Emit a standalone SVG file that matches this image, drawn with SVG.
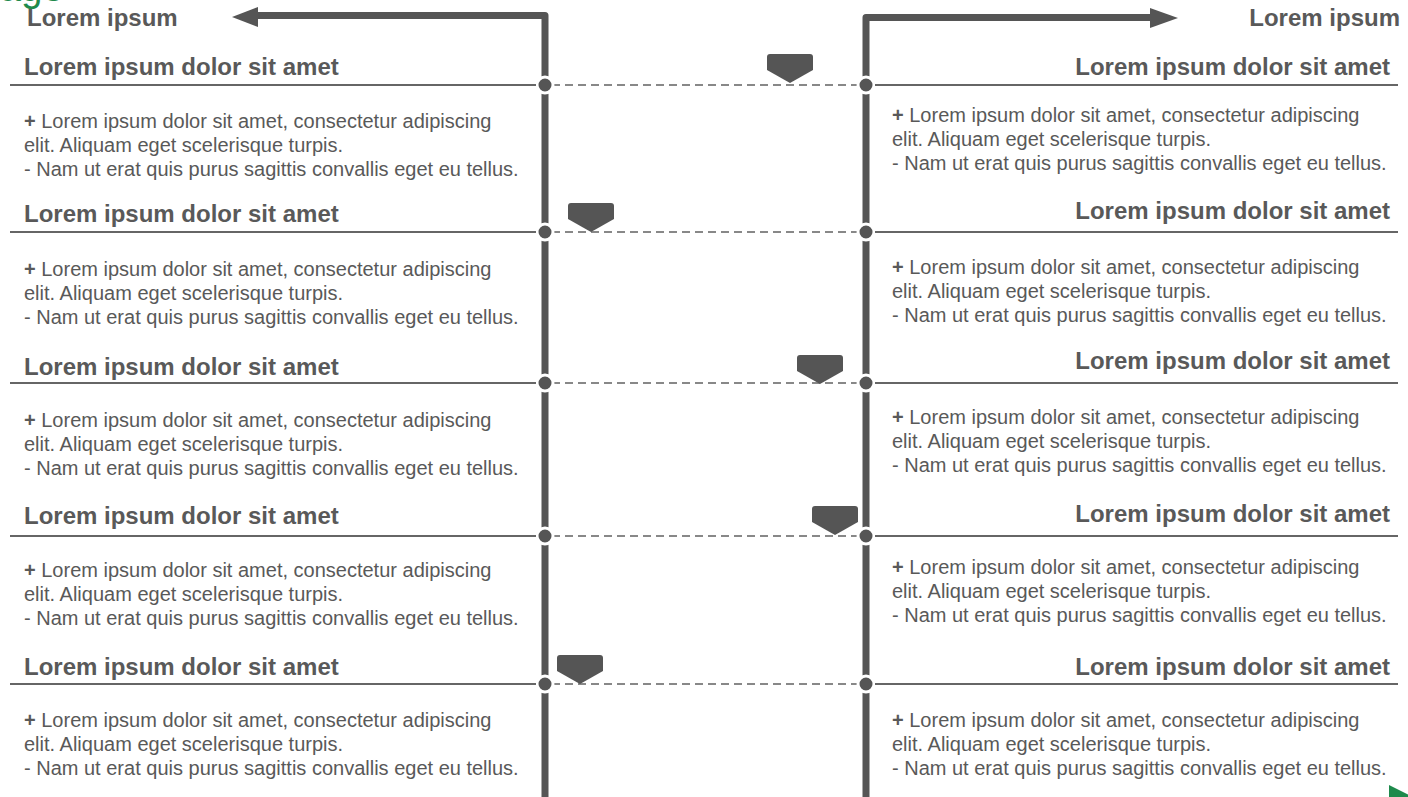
<svg xmlns="http://www.w3.org/2000/svg" width="1408" height="797" viewBox="0 0 1408 797">
  <style>
    .hd { font-family: "Liberation Sans", Arial, sans-serif; font-weight: bold; font-size: 24px; fill: #595959; }
    .bd { font-family: "Liberation Sans", Arial, sans-serif; font-size: 20px; fill: #595959; }
    .bd .pl { font-weight: bold; }
    .rule { stroke: #666; stroke-width: 2; }
    .spine { fill: none; stroke: #555; stroke-width: 7; stroke-linejoin: round; }
    .dash { stroke: #888; stroke-width: 2; stroke-dasharray: 8 5; }
    .dot { fill: #555; stroke: #fff; stroke-width: 3; }
    .flag { fill: #555; }
  </style>
  <defs>
    <path id="flag" d="M3,0 H43 Q46,0 46,3 V16 L23,29 L0,16 V3 Q0,0 3,0 Z"/>
  </defs>
  <rect width="1408" height="797" fill="#fff"/>

  <!-- title fragment and corner mark -->
  <text x="0" y="1" font-family="Liberation Sans, Arial, sans-serif" font-size="38" fill="#1e8a4c">age</text>
  <polygon points="1389,785 1389,811 1415,798" fill="#1e8a4c"/>

  <!-- spines, arrows and dashed links -->
  <g id="connectors">
    <path class="spine" d="M545,797 V15.5 H256"/>
    <polygon points="232,17 258,7 258,27" fill="#555"/>
    <path class="spine" d="M866,797 V17.5 H1152"/>
    <polygon points="1178,18 1150,8 1150,28" fill="#555"/>

    <line class="dash" x1="552" y1="85" x2="859" y2="85"/>
    <line class="dash" x1="552" y1="232" x2="859" y2="232"/>
    <line class="dash" x1="552" y1="383" x2="859" y2="383"/>
    <line class="dash" x1="552" y1="536" x2="859" y2="536"/>
    <line class="dash" x1="552" y1="684" x2="859" y2="684"/>

    <circle class="dot" cx="545" cy="85" r="8"/>
    <circle class="dot" cx="866" cy="85" r="8"/>
    <circle class="dot" cx="545" cy="232" r="8"/>
    <circle class="dot" cx="866" cy="232" r="8"/>
    <circle class="dot" cx="545" cy="383" r="8"/>
    <circle class="dot" cx="866" cy="383" r="8"/>
    <circle class="dot" cx="545" cy="536" r="8"/>
    <circle class="dot" cx="866" cy="536" r="8"/>
    <circle class="dot" cx="545" cy="684" r="8"/>
    <circle class="dot" cx="866" cy="684" r="8"/>
  </g>

  <!-- position flags on the links -->
  <g id="flags" class="flag">
    <use href="#flag" x="767" y="54"/>
    <use href="#flag" x="568" y="203"/>
    <use href="#flag" x="797" y="355"/>
    <use href="#flag" x="812" y="506"/>
    <use href="#flag" x="557" y="655"/>
  </g>

  <!-- column titles -->
  <g id="title-left"><text class="hd" x="27" y="26">Lorem ipsum</text></g>
  <g id="title-right"><text class="hd" x="1400" y="26" text-anchor="end">Lorem ipsum</text></g>

  <!-- left column entries -->
  <g id="left-1">
    <text class="hd" x="24" y="75">Lorem ipsum dolor sit amet</text>
    <line class="rule" x1="10" y1="85" x2="536" y2="85"/>
    <text class="bd" x="24" y="128"><tspan class="pl">+</tspan> Lorem ipsum dolor sit amet, consectetur adipiscing<tspan x="24" dy="24">elit. Aliquam eget scelerisque turpis.</tspan><tspan x="24" dy="24">- Nam ut erat quis purus sagittis convallis eget eu tellus.</tspan></text>
  </g>
  <g id="left-2">
    <text class="hd" x="24" y="222">Lorem ipsum dolor sit amet</text>
    <line class="rule" x1="10" y1="232" x2="536" y2="232"/>
    <text class="bd" x="24" y="276"><tspan class="pl">+</tspan> Lorem ipsum dolor sit amet, consectetur adipiscing<tspan x="24" dy="24">elit. Aliquam eget scelerisque turpis.</tspan><tspan x="24" dy="24">- Nam ut erat quis purus sagittis convallis eget eu tellus.</tspan></text>
  </g>
  <g id="left-3">
    <text class="hd" x="24" y="375">Lorem ipsum dolor sit amet</text>
    <line class="rule" x1="10" y1="383" x2="536" y2="383"/>
    <text class="bd" x="24" y="427"><tspan class="pl">+</tspan> Lorem ipsum dolor sit amet, consectetur adipiscing<tspan x="24" dy="24">elit. Aliquam eget scelerisque turpis.</tspan><tspan x="24" dy="24">- Nam ut erat quis purus sagittis convallis eget eu tellus.</tspan></text>
  </g>
  <g id="left-4">
    <text class="hd" x="24" y="524">Lorem ipsum dolor sit amet</text>
    <line class="rule" x1="10" y1="536" x2="536" y2="536"/>
    <text class="bd" x="24" y="577"><tspan class="pl">+</tspan> Lorem ipsum dolor sit amet, consectetur adipiscing<tspan x="24" dy="24">elit. Aliquam eget scelerisque turpis.</tspan><tspan x="24" dy="24">- Nam ut erat quis purus sagittis convallis eget eu tellus.</tspan></text>
  </g>
  <g id="left-5">
    <text class="hd" x="24" y="675">Lorem ipsum dolor sit amet</text>
    <line class="rule" x1="10" y1="684" x2="536" y2="684"/>
    <text class="bd" x="24" y="727"><tspan class="pl">+</tspan> Lorem ipsum dolor sit amet, consectetur adipiscing<tspan x="24" dy="24">elit. Aliquam eget scelerisque turpis.</tspan><tspan x="24" dy="24">- Nam ut erat quis purus sagittis convallis eget eu tellus.</tspan></text>
  </g>

  <!-- right column entries -->
  <g id="right-1">
    <text class="hd" x="1390" y="75" text-anchor="end">Lorem ipsum dolor sit amet</text>
    <line class="rule" x1="875" y1="85" x2="1398" y2="85"/>
    <text class="bd" x="892" y="122"><tspan class="pl">+</tspan> Lorem ipsum dolor sit amet, consectetur adipiscing<tspan x="892" dy="24">elit. Aliquam eget scelerisque turpis.</tspan><tspan x="892" dy="24">- Nam ut erat quis purus sagittis convallis eget eu tellus.</tspan></text>
  </g>
  <g id="right-2">
    <text class="hd" x="1390" y="219" text-anchor="end">Lorem ipsum dolor sit amet</text>
    <line class="rule" x1="875" y1="232" x2="1398" y2="232"/>
    <text class="bd" x="892" y="274"><tspan class="pl">+</tspan> Lorem ipsum dolor sit amet, consectetur adipiscing<tspan x="892" dy="24">elit. Aliquam eget scelerisque turpis.</tspan><tspan x="892" dy="24">- Nam ut erat quis purus sagittis convallis eget eu tellus.</tspan></text>
  </g>
  <g id="right-3">
    <text class="hd" x="1390" y="369" text-anchor="end">Lorem ipsum dolor sit amet</text>
    <line class="rule" x1="875" y1="383" x2="1398" y2="383"/>
    <text class="bd" x="892" y="424"><tspan class="pl">+</tspan> Lorem ipsum dolor sit amet, consectetur adipiscing<tspan x="892" dy="24">elit. Aliquam eget scelerisque turpis.</tspan><tspan x="892" dy="24">- Nam ut erat quis purus sagittis convallis eget eu tellus.</tspan></text>
  </g>
  <g id="right-4">
    <text class="hd" x="1390" y="522" text-anchor="end">Lorem ipsum dolor sit amet</text>
    <line class="rule" x1="875" y1="536" x2="1398" y2="536"/>
    <text class="bd" x="892" y="574"><tspan class="pl">+</tspan> Lorem ipsum dolor sit amet, consectetur adipiscing<tspan x="892" dy="24">elit. Aliquam eget scelerisque turpis.</tspan><tspan x="892" dy="24">- Nam ut erat quis purus sagittis convallis eget eu tellus.</tspan></text>
  </g>
  <g id="right-5">
    <text class="hd" x="1390" y="675" text-anchor="end">Lorem ipsum dolor sit amet</text>
    <line class="rule" x1="875" y1="684" x2="1398" y2="684"/>
    <text class="bd" x="892" y="727"><tspan class="pl">+</tspan> Lorem ipsum dolor sit amet, consectetur adipiscing<tspan x="892" dy="24">elit. Aliquam eget scelerisque turpis.</tspan><tspan x="892" dy="24">- Nam ut erat quis purus sagittis convallis eget eu tellus.</tspan></text>
  </g>
</svg>
